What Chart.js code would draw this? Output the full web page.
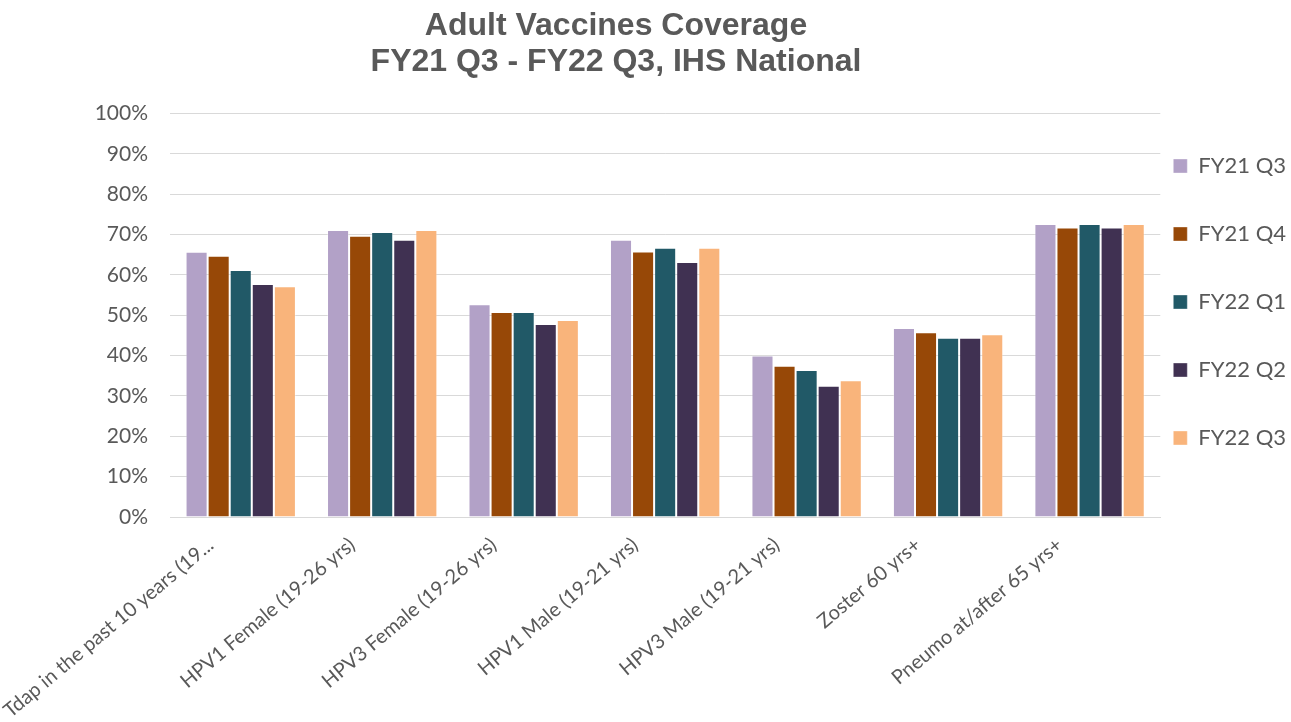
<!DOCTYPE html>
<html>
<head>
<meta charset="utf-8">
<script src="https://cdn.jsdelivr.net/npm/chart.js@4/dist/chart.umd.min.js"></script>
<style>
  html, body { margin: 0; padding: 0; background: #fff; }
  #wrap { width: 1291px; height: 722px; position: relative; }
</style>
</head>
<body>
<div id="wrap"><canvas id="c"></canvas></div>
<script>
const categories = [
  "Tdap in the past 10 years (19...",
  "HPV1 Female (19-26 yrs)",
  "HPV3 Female (19-26 yrs)",
  "HPV1 Male (19-21 yrs)",
  "HPV3 Male (19-21 yrs)",
  "Zoster 60 yrs+",
  "Pneumo at/after 65 yrs+"
];
const seriesNames = ["FY21 Q3", "FY21 Q4", "FY22 Q1", "FY22 Q2", "FY22 Q3"];
const fy21q3 = [65.7, 71.1, 52.7, 68.7, 40.0, 46.8, 72.6];
const fy21q4 = [64.7, 69.7, 50.8, 65.8, 37.5, 45.8, 71.7];
const fy22q1 = [61.2, 70.6, 50.8, 66.7, 36.4, 44.4, 72.6];
const fy22q2 = [57.7, 68.7, 47.8, 63.2, 32.5, 44.4, 71.7];
const fy22q3 = [57.2, 71.1, 48.8, 66.7, 33.9, 45.3, 72.6];
const yTicks = [0, 10, 20, 30, 40, 50, 60, 70, 80, 90, 100];
const titleLines = ["Adult Vaccines Coverage", "FY21 Q3 - FY22 Q3, IHS National"];

const colors = ["#b2a1c7", "#974807", "#215967", "#403152", "#f9b47b"];
const seriesValues = [fy21q3, fy21q4, fy22q1, fy22q2, fy22q3];
const GREY = "#595959";
const FONT = "Lato, 'Open Sans', sans-serif";

const LEGEND_PAD = 46;

const layoutFix = {
  id: "layoutFix",
  afterLayout(chart) {
    const t = chart.titleBlock;
    if (t) { t.left = 0; t.right = 1232; }
    const lg = chart.legend;
    if (lg) {
      const dx = (chart.chartArea.right + 13) - (lg.left + LEGEND_PAD);
      lg.left += dx; lg.right += dx;
      lg.top -= 59; lg.bottom -= 59;
    }
  }
};

new Chart(document.getElementById("c"), {
  type: "bar",
  data: {
    labels: categories,
    datasets: seriesNames.map((n, i) => ({
      label: n,
      data: seriesValues[i],
      backgroundColor: colors[i],
      borderColor: "rgba(255,255,255,0.35)",
      borderWidth: 1,
      categoryPercentage: 0.78,
      barPercentage: 1.0
    }))
  },
  options: {
    responsive: true,
    maintainAspectRatio: false,
    animation: false,
    layout: { padding: { left: 0, right: -38, top: 0, bottom: 0 } },
    plugins: {
      title: {
        display: true,
        text: titleLines,
        color: GREY,
        font: { family: "'Liberation Sans', Arial, sans-serif", size: 32, weight: "bold", lineHeight: 1.1 },
        padding: { top: 9, bottom: 34 }
      },
      legend: {
        display: true,
        position: "right",
        align: "center",
        labels: {
          color: GREY,
          font: { family: FONT, size: 22 },
          boxWidth: 14,
          boxHeight: 14,
          padding: LEGEND_PAD
        }
      },
      tooltip: { enabled: false }
    },
    scales: {
      x: {
        grid: { display: false },
        border: { display: true, color: "#d9d9d9", width: 1 },
        ticks: {
          color: GREY,
          font: { family: FONT, size: 20 },
          minRotation: 40,
          maxRotation: 40,
          autoSkip: false,
          padding: 8,
          labelOffset: -30
        },
        afterFit(s) { s.height = 205; }
      },
      y: {
        min: 0,
        max: 100,
        afterBuildTicks(s) { s.ticks = yTicks.map(v => ({ value: v })); },
        grid: { color: "#d9d9d9", lineWidth: 1, drawTicks: false },
        border: { display: false },
        ticks: {
          color: GREY,
          font: { family: FONT, size: 21 },
          padding: 22,
          callback: v => v + "%"
        },
        afterFit(s) { s.width = 170; }
      }
    }
  },
  plugins: [layoutFix]
});
</script>
</body>
</html>
